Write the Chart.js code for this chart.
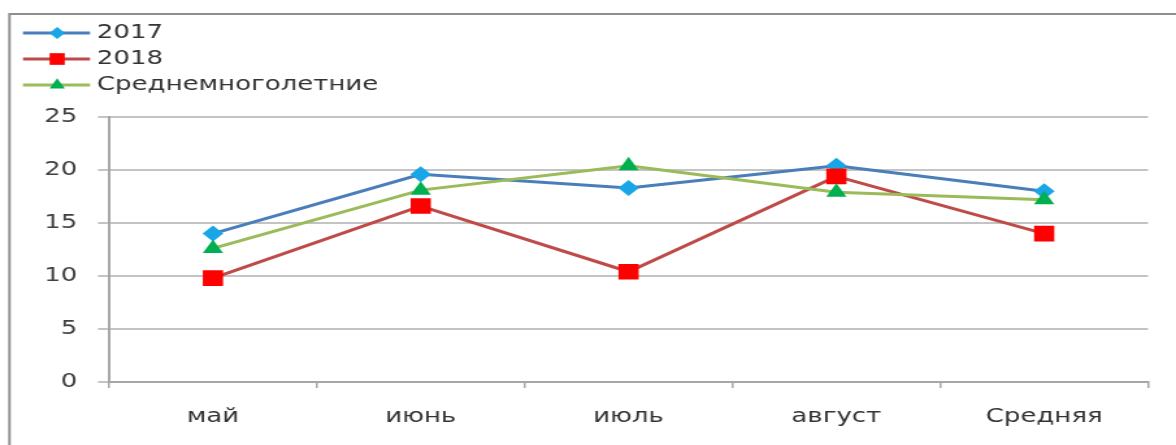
<!DOCTYPE html>
<html>
<head>
<meta charset="utf-8">
<script src="https://cdn.jsdelivr.net/npm/chart.js@4/dist/chart.umd.min.js"></script>
<style>
  html, body { margin: 0; padding: 0; background: #fff; overflow: hidden; }
  #wrap { width: 1176px; height: 445px; overflow: hidden; }
  /* the chart is laid out narrow and widened on screen */
  #c { transform-origin: 0 0; transform: scaleX(1.29945); }
</style>
</head>
<body>
<div id="wrap"><canvas id="c" width="905" height="445"></canvas></div>
<script>
// Monthly mean temperature, °C
const months   = ['май', 'июнь', 'июль', 'август', 'Средняя'];
const temp2017 = [14.0, 19.6, 18.3, 20.4, 18.0];
const temp2018 = [9.8, 16.6, 10.4, 19.4, 14.0];
const tempNorm = [12.6, 18.1, 20.4, 17.9, 17.2];
const yTicks   = [0, 5, 10, 15, 20, 25];

const FONT = '"DejaVu Sans", Verdana, sans-serif';

// white page with the frame around the chart
const framePlugin = {
  id: 'frame',
  beforeDraw(chart) {
    const ctx = chart.ctx;
    ctx.save();
    ctx.fillStyle = '#ffffff';
    ctx.fillRect(0, 0, chart.width, chart.height);
    ctx.strokeStyle = '#8f8f8f';
    ctx.lineWidth = 2;
    ctx.strokeRect(7.3, 14, 2000, 2000);
    ctx.restore();
  }
};

// legend: short line with the series marker, then the label
const lineLegendPlugin = {
  id: 'lineLegend',
  afterDraw(chart) {
    const ctx = chart.ctx;
    chart.data.datasets.forEach((ds, i) => {
      const y = 33 + i * 26;
      ctx.save();
      ctx.strokeStyle = ds.borderColor;
      ctx.lineWidth = 3;
      ctx.beginPath();
      ctx.moveTo(17.7, y);
      ctx.lineTo(69.3, y);
      ctx.stroke();
      ctx.fillStyle = ds.pointBackgroundColor;
      ctx.strokeStyle = ds.pointBackgroundColor;
      Chart.helpers.drawPoint(ctx, {
        pointStyle: ds.pointStyle,
        radius: ds.pointRadius * 0.75,
        rotation: 0,
        borderWidth: 0
      }, 44, y);
      ctx.fillStyle = '#333333';
      ctx.font = '20px ' + FONT;
      ctx.textAlign = 'left';
      ctx.textBaseline = 'middle';
      ctx.fillText(ds.label, 74.6, y);
      ctx.restore();
    });
  }
};

new Chart(document.getElementById('c'), {
  type: 'line',
  data: {
    labels: months,
    datasets: [
      {
        label: '2017',
        data: temp2017,
        borderColor: '#4a7ebb',
        borderWidth: 3,
        pointStyle: 'rectRot',
        pointRadius: 8,
        pointBackgroundColor: '#19a6e6',
        pointBorderColor: '#19a6e6',
        pointBorderWidth: 0,
        tension: 0,
        order: 3
      },
      {
        label: '2018',
        data: temp2018,
        borderColor: '#be4b48',
        borderWidth: 3,
        pointStyle: 'rect',
        pointRadius: 11,
        pointBackgroundColor: '#ff0000',
        pointBorderColor: '#ff0000',
        pointBorderWidth: 0,
        tension: 0,
        order: 2
      },
      {
        label: 'Среднемноголетние',
        data: tempNorm,
        borderColor: '#9bbb59',
        borderWidth: 3,
        pointStyle: 'triangle',
        pointRadius: 9,
        pointBackgroundColor: '#00b050',
        pointBorderColor: '#00b050',
        pointBorderWidth: 0,
        tension: 0,
        order: 1
      }
    ]
  },
  options: {
    responsive: false,
    animation: false,
    events: [],
    layout: { autoPadding: false, padding: { left: 0, top: 117, right: 21.5, bottom: 0 } },
    plugins: { legend: { display: false }, tooltip: { enabled: false } },
    scales: {
      x: {
        type: 'category',
        offset: true,
        afterFit(s) { s.height = 63; },
        grid: {
          offset: true,
          drawOnChartArea: false,
          tickLength: 6,
          color: '#a6a6a6',
          lineWidth: 1.5
        },
        border: { display: true, color: '#a6a6a6', width: 2 },
        ticks: {
          color: '#333333',
          font: { family: FONT, size: 20 },
          padding: 17,
          maxRotation: 0,
          autoSkip: false
        }
      },
      y: {
        min: 0,
        max: 25,
        afterFit(s) { s.width = 83.9; },
        afterBuildTicks(s) { s.ticks = yTicks.map(v => ({ value: v })); },
        grid: {
          color: '#c4c4c4',
          lineWidth: 2,
          tickLength: 8.5
        },
        border: { display: true, color: '#a6a6a6', width: 2 },
        ticks: {
          color: '#404040',
          font: { family: FONT, size: 20 },
          padding: 16
        }
      }
    }
  },
  plugins: [framePlugin, lineLegendPlugin]
});
</script>
</body>
</html>
